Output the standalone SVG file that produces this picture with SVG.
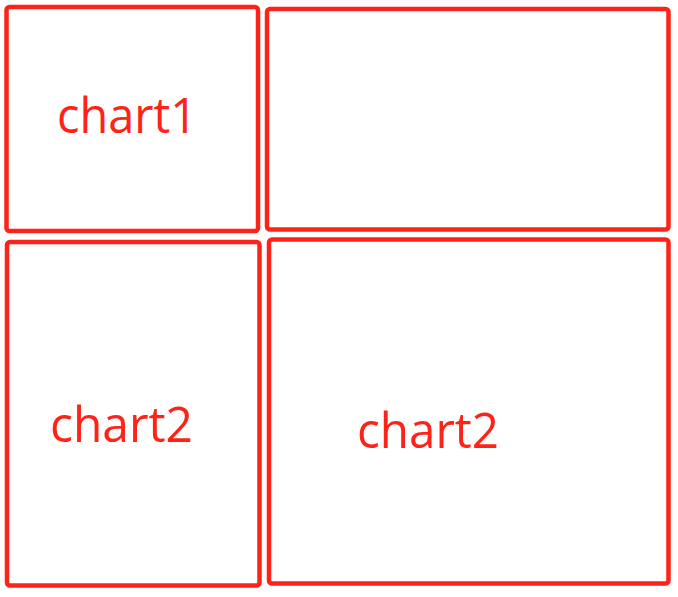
<svg xmlns="http://www.w3.org/2000/svg" width="678" height="597" viewBox="0 0 678 597">
<style>
.box{fill:#fff;stroke:#fe2318;stroke-width:4.5;}
.lbl{fill:#fe2318;font-family:"Open Sans","Noto Sans",sans-serif;font-size:49px;}
</style>
<rect width="678" height="597" fill="#fff"/>
<g id="chart1">
<rect class="box" x="6.5" y="7" width="251.5" height="224" rx="3"/>
<text class="lbl" x="57" y="133" textLength="140" lengthAdjust="spacingAndGlyphs">chart1</text>
</g>
<g id="empty">
<rect class="box" x="267" y="9" width="401.5" height="220.5" rx="3"/>
</g>
<g id="chart2a">
<rect class="box" x="7" y="242" width="252.5" height="343.5" rx="3"/>
<text class="lbl" x="50" y="441.5" textLength="143" lengthAdjust="spacingAndGlyphs">chart2</text>
</g>
<g id="chart2b">
<rect class="box" x="269" y="239.5" width="399.5" height="344" rx="3"/>
<text class="lbl" x="357" y="447.5" textLength="142" lengthAdjust="spacingAndGlyphs">chart2</text>
</g>
<g id="connectors"/>
</svg>
